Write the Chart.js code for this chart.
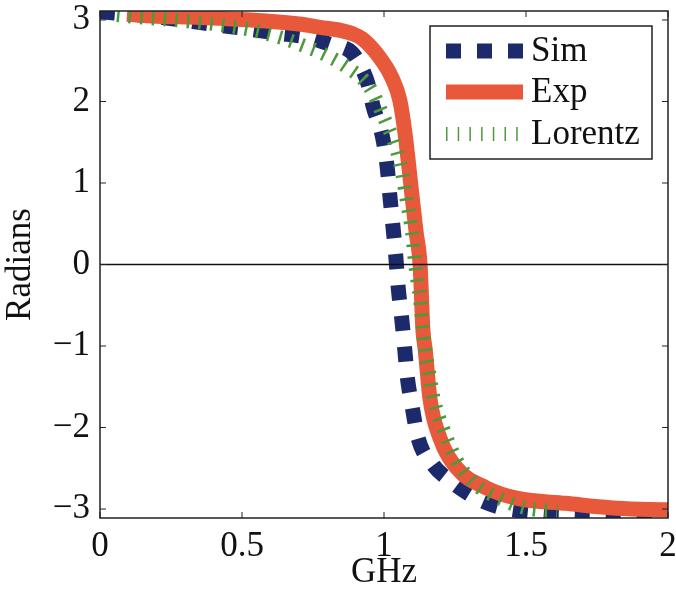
<!DOCTYPE html>
<html>
<head>
<meta charset="utf-8">
<script src="https://cdn.jsdelivr.net/npm/chart.js@4.4.1/dist/chart.umd.min.js"></script>
<style>
  html, body { margin: 0; padding: 0; background: #fff; }
  canvas { display: block; }
</style>
</head>
<body>
<canvas id="phaseChart" width="676" height="600" style="width:676px;height:600px"></canvas>
<script>
/* ---- data (GHz, radians) ---- */
const simX = [0, 0.2, 0.43, 0.5, 0.62, 0.74, 0.81, 0.887, 0.923, 0.945, 0.961, 0.995, 1.011, 1.021, 1.032, 1.042, 1.05, 1.062, 1.072, 1.082, 1.099, 1.12, 1.173, 1.232, 1.327, 1.41, 1.5, 1.7, 2.0];
const simY = [3.1, 3.04, 2.93, 2.9, 2.84, 2.78, 2.7, 2.6, 2.4, 2.2, 1.95, 1.56, 1.2, 0.83, 0.45, 0.08, -0.28, -0.65, -1.0, -1.38, -1.74, -2.13, -2.46, -2.65, -2.87, -2.98, -3.03, -3.07, -3.09];

const expX = [0.095, 0.18, 0.35, 0.53, 0.70, 0.775, 0.85, 0.89, 0.923, 0.98, 1.028, 1.056, 1.074, 1.085, 1.10, 1.113, 1.127, 1.137, 1.145, 1.162, 1.197, 1.257, 1.36, 1.47, 1.64, 1.82, 2.0];
const expY = [3.07, 3.05, 3.03, 3.0, 2.95, 2.91, 2.87, 2.83, 2.77, 2.56, 2.29, 2.01, 1.61, 1.28, 0.8, 0.4, 0.0, -0.8, -1.04, -1.65, -2.13, -2.5, -2.74, -2.87, -2.93, -2.99, -3.01];

const lorX = [0.06, 0.15, 0.29, 0.5, 0.64, 0.72, 0.79, 0.87, 0.95, 1.0, 1.045, 1.065, 1.08, 1.099, 1.11, 1.127, 1.14, 1.16, 1.175, 1.208, 1.257, 1.327, 1.408, 1.5, 1.61];
const lorY = [3.06, 3.03, 2.99, 2.9, 2.78, 2.68, 2.58, 2.42, 2.17, 1.8, 1.4, 1.1, 0.79, 0.39, 0.0, -0.43, -0.9, -1.35, -1.65, -2.01, -2.41, -2.71, -2.87, -2.99, -3.02];

const xTicks = [0, 0.5, 1, 1.5, 2];
const yTicks = [-3, -2, -1, 0, 1, 2, 3];
const seriesNames = ['Sim', 'Exp', 'Lorentz'];

const SERIF = "'Liberation Serif', 'Times New Roman', serif";
const FONT_SIZE = 35;

function toPoints(xs, ys) {
    return xs.map((x, i) => ({ x: x, y: ys[i] }));
}

/* frame, inward ticks and the zero line (MATLAB look) */
const frame = {
    id: 'frame',
    afterDatasetsDraw(chart) {
        const { ctx, chartArea: a, scales } = chart;
        ctx.save();
        // zero line
        const y0 = scales.y.getPixelForValue(0);
        ctx.strokeStyle = '#111';
        ctx.lineWidth = 1.5;
        ctx.beginPath();
        ctx.moveTo(a.left, y0);
        ctx.lineTo(a.right, y0);
        ctx.stroke();
        // box
        ctx.strokeStyle = '#222';
        ctx.lineWidth = 1.5;
        ctx.strokeRect(a.left, a.top, a.right - a.left, a.bottom - a.top);
        // ticks inward
        ctx.lineWidth = 1;
        const len = 6;
        ctx.beginPath();
        xTicks.forEach(v => {
            const px = scales.x.getPixelForValue(v);
            ctx.moveTo(px, a.bottom); ctx.lineTo(px, a.bottom - len);
            ctx.moveTo(px, a.top); ctx.lineTo(px, a.top + len);
        });
        yTicks.forEach(v => {
            const py = scales.y.getPixelForValue(v);
            ctx.moveTo(a.left, py); ctx.lineTo(a.left + len, py);
            ctx.moveTo(a.right, py); ctx.lineTo(a.right - len, py);
        });
        ctx.stroke();
        ctx.restore();
    }
};

/* boxed legend inside the plot, top right */
const boxLegend = {
    id: 'boxLegend',
    afterDraw(chart) {
        const ctx = chart.ctx;
        const bx = 430, by = 26, bw = 222, bh = 133;
        ctx.save();
        ctx.fillStyle = '#fff';
        ctx.fillRect(bx, by, bw, bh);
        ctx.strokeStyle = '#222';
        ctx.lineWidth = 1.5;
        ctx.strokeRect(bx, by, bw, bh);

        const rows = [51, 92, 134];
        chart.data.datasets.forEach((ds, i) => {
            const ry = rows[i];
            ctx.strokeStyle = ds.borderColor;
            ctx.lineWidth = ds.borderWidth;
            ctx.lineCap = 'butt';
            ctx.setLineDash(i === 2 ? [1.5, 10.2] : (ds.borderDash || []));
            ctx.beginPath();
            ctx.moveTo(446, ry);
            ctx.lineTo(523, ry);
            ctx.stroke();
            ctx.setLineDash([]);
            ctx.fillStyle = '#111';
            ctx.font = FONT_SIZE + 'px ' + SERIF;
            ctx.textAlign = 'left';
            ctx.textBaseline = 'middle';
            ctx.fillText(seriesNames[i], 531, ry + 1);
        });
        ctx.restore();
    }
};

const ctx = document.getElementById('phaseChart').getContext('2d');
new Chart(ctx, {
    type: 'line',
    data: {
        datasets: [
            {
                label: seriesNames[0],
                data: toPoints(simX, simY),
                borderColor: '#1c2a6c',
                borderWidth: 15,
                borderDash: [15, 16],
                borderCapStyle: 'butt',
                cubicInterpolationMode: 'monotone',
                pointRadius: 0,
                clip: 0,
                order: 3
            },
            {
                label: seriesNames[1],
                data: toPoints(expX, expY),
                borderColor: '#e8583b',
                borderWidth: 15,
                cubicInterpolationMode: 'monotone',
                pointRadius: 0,
                clip: 0,
                order: 2
            },
            {
                label: seriesNames[2],
                data: toPoints(lorX, lorY),
                borderColor: '#4c9a3a',
                borderWidth: 14,
                borderDash: [2.5, 9.2],
                borderCapStyle: 'butt',
                cubicInterpolationMode: 'monotone',
                pointRadius: 0,
                clip: 0,
                order: 1
            }
        ]
    },
    options: {
        responsive: false,
        devicePixelRatio: 1,
        animation: false,
        layout: { padding: { top: 11, right: 8, left: 0, bottom: 0 } },
        plugins: {
            legend: { display: false },
            tooltip: { enabled: false }
        },
        scales: {
            x: {
                type: 'linear',
                min: 0,
                max: 2,
                afterBuildTicks: s => { s.ticks = xTicks.map(v => ({ value: v })); },
                afterFit: s => { s.height = 82; s.paddingLeft = 0; s.paddingRight = 0; },
                border: { display: false },
                grid: { display: false, drawTicks: false },
                ticks: {
                    padding: 8,
                    color: '#111',
                    font: { family: SERIF, size: FONT_SIZE },
                    callback: v => String(v)
                },
                title: {
                    display: true,
                    text: 'GHz',
                    color: '#111',
                    font: { family: SERIF, size: FONT_SIZE },
                    padding: { top: 0, bottom: 6 }
                }
            },
            y: {
                type: 'linear',
                min: -3.11,
                max: 3.11,
                afterBuildTicks: s => { s.ticks = yTicks.map(v => ({ value: v })); },
                afterFit: s => { s.width = 100; s.paddingTop = 0; s.paddingBottom = 0; },
                border: { display: false },
                grid: { display: false, drawTicks: false },
                ticks: {
                    padding: 10,
                    color: '#111',
                    font: { family: SERIF, size: FONT_SIZE },
                    callback: v => String(v).replace('-', '\u2212')
                },
                title: {
                    display: true,
                    text: 'Radians',
                    color: '#111',
                    font: { family: SERIF, size: FONT_SIZE },
                    padding: { top: 0, bottom: 4 }
                }
            }
        }
    },
    plugins: [frame, boxLegend]
});
</script>
</body>
</html>
